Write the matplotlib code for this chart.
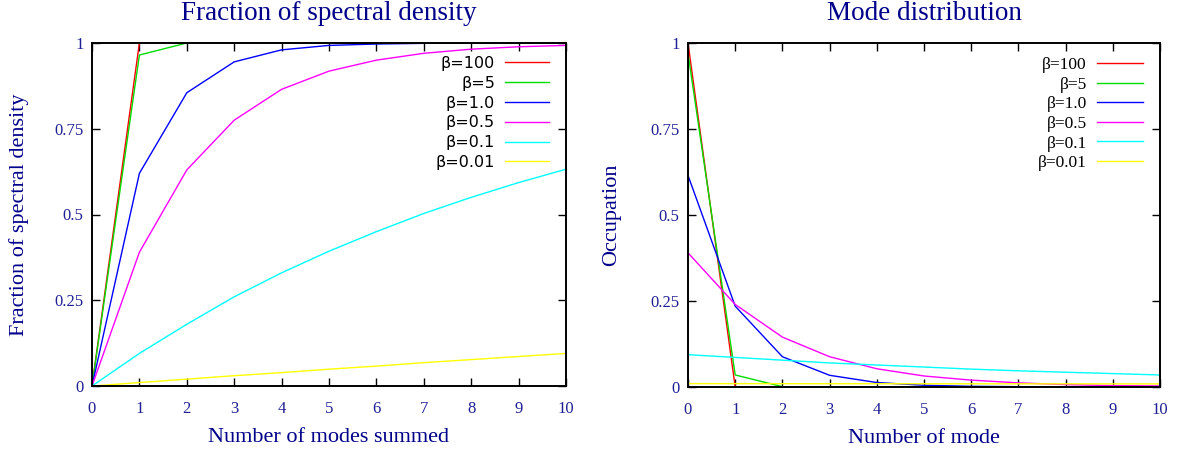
import matplotlib
matplotlib.use("Agg")
import matplotlib.pyplot as plt

# ----------------- data -----------------
modes = [0, 1, 2, 3, 4, 5, 6, 7, 8, 9, 10]
beta_labels = ["β=100", "β=5", "β=1.0", "β=0.5", "β=0.1", "β=0.01"]
colors = ["#ff0000", "#00dd00", "#0000ff", "#ff00ff", "#00ffff", "#ffff00"]

# cumulative fraction of spectral density vs number of modes summed
frac_b100 = [0, 1, 1, 1, 1, 1, 1, 1, 1, 1, 1]
frac_b5 = [0, 0.965, 1, 1, 1, 1, 1, 1, 1, 1, 1]
frac_b1 = [0, 0.62, 0.855, 0.945, 0.98, 0.993, 0.997, 0.999, 1, 1, 1]
frac_b05 = [0, 0.39, 0.63, 0.775, 0.865, 0.918, 0.95, 0.97, 0.982, 0.989, 0.993]
frac_b01 = [0, 0.095, 0.18, 0.26, 0.33, 0.393, 0.45, 0.503, 0.55, 0.593, 0.632]
frac_b001 = [0, 0.01, 0.02, 0.03, 0.039, 0.049, 0.058, 0.068, 0.077, 0.086, 0.095]

# occupation of each mode
occ_b100 = [1, 0, 0, 0, 0, 0, 0, 0, 0, 0, 0]
occ_b5 = [0.97, 0.035, 0.001, 0, 0, 0, 0, 0, 0, 0, 0]
occ_b1 = [0.615, 0.235, 0.088, 0.034, 0.013, 0.005, 0.002, 0.001, 0, 0, 0]
occ_b05 = [0.39, 0.24, 0.145, 0.088, 0.053, 0.032, 0.02, 0.012, 0.007, 0.004, 0.003]
occ_b01 = [0.094, 0.086, 0.078, 0.07, 0.064, 0.058, 0.052, 0.047, 0.043, 0.039, 0.035]
occ_b001 = [0.0099, 0.0098, 0.0097, 0.0096, 0.0095, 0.0094, 0.0093, 0.0092, 0.0092, 0.0091, 0.009]

frac_series = [frac_b100, frac_b5, frac_b1, frac_b05, frac_b01, frac_b001]
occ_series = [occ_b100, occ_b5, occ_b1, occ_b05, occ_b01, occ_b001]

y_ticks = [0, 0.25, 0.5, 0.75, 1]
y_ticklabels = ["0", "0.25", "0.5", "0.75", "1"]

TITLE_COL = "#00008b"
TICK_COL = "#1f1f95"
SERIF = ["Liberation Serif", "DejaVu Serif"]

fig = plt.figure(figsize=(11.77, 4.55), dpi=100)
ax1 = fig.add_axes([92 / 1177, 69 / 455, 474 / 1177, 343 / 455])
ax2 = fig.add_axes([688 / 1177, 68 / 455, 472 / 1177, 344 / 455])


def style_axes(ax, title, xlabel, ylabel, legend_family, legend_size,
               handle_len, spacing):
    ax.set_xlim(0, 10)
    ax.set_ylim(0, 1)
    ax.set_xticks(modes)
    ax.set_yticks(y_ticks)
    ax.set_yticklabels(y_ticklabels)
    ax.tick_params(direction="in", length=6, width=1, top=True, right=True,
                   labelcolor=TICK_COL, labelsize=12)
    ax.tick_params(axis="x", pad=11)
    ax.tick_params(axis="y", pad=6)
    for lab in ax.get_xticklabels() + ax.get_yticklabels():
        lab.set_family(SERIF)
    for sp in ax.spines.values():
        sp.set_linewidth(1.4)
    ax.text(0.5, 1.085, title, transform=ax.transAxes, ha="center", va="center",
            fontsize=19.5, color=TITLE_COL, family=SERIF)
    ax.set_xlabel(xlabel, fontsize=16, color=TITLE_COL, family=SERIF)
    ax.set_ylabel(ylabel, fontsize=16, color=TITLE_COL, family=SERIF)
    ax.xaxis.set_label_coords(0.5, -0.122)
    ax.legend(loc="upper right", bbox_to_anchor=(0.985, 0.99), frameon=False,
              markerfirst=False, handlelength=handle_len, handletextpad=0.6,
              labelspacing=spacing, prop={"family": legend_family, "size": legend_size},
              borderaxespad=0.2)


for vals, lab, col in zip(frac_series, beta_labels, colors):
    ax1.plot(modes, vals, color=col, lw=1.0, label=lab)
for vals, lab, col in zip(occ_series, beta_labels, colors):
    ax2.plot(modes, vals, color=col, lw=1.0, label=lab)

style_axes(ax1, "Fraction of spectral density", "Number of modes summed",
           "Fraction of spectral density", ["DejaVu Sans"], 11.5, 2.8, 0.3)
style_axes(ax2, "Mode distribution", "Number of mode", "Occupation",
           ["Liberation Serif"], 12.5, 2.6, 0.2)
ax1.yaxis.set_label_coords(-0.133, 0.5)
ax2.yaxis.set_label_coords(-0.142, 0.5)

fig.savefig("out.png", dpi=100)
